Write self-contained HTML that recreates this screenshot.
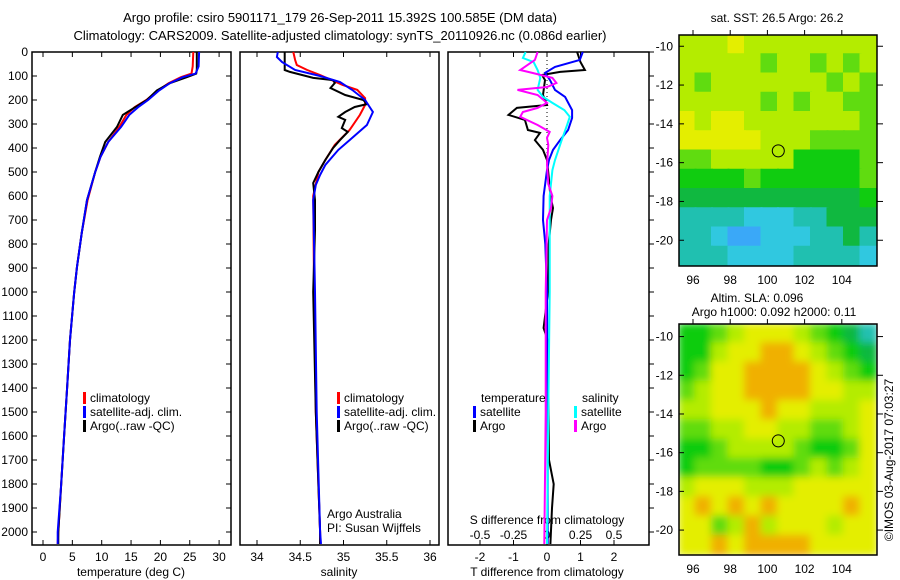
<!DOCTYPE html>
<html><head><meta charset="utf-8">
<style>
html,body{margin:0;padding:0;background:#fff;}
svg{display:block;font-family:"Liberation Sans",sans-serif;font-size:12px;}
</style></head>
<body>
<svg id="chart" width="900" height="580" viewBox="0 0 900 580" xmlns="http://www.w3.org/2000/svg">
<text x="340" y="22" text-anchor="middle" font-size="13">Argo profile: csiro 5901171_179 26-Sep-2011 15.392S 100.585E (DM data)</text>
<text x="340" y="40" text-anchor="middle" font-size="13">Climatology: CARS2009. Satellite-adjusted climatology: synTS_20110926.nc (0.086d earlier)</text>
<g id="g"></g>
</svg>
<script>
// ---- data (depth m, value) ----
const tempClim = [[0,25.6],[60,25.5],[90,25.3],[105,23.5],[130,21.4],[160,19.6],[200,17.6],[230,15.6],[262,14.2],[312,13.0],[375,11.1],[437,9.8],[500,8.9],[617,7.6],[755,6.6],[895,5.8],[1005,5.3],[1200,4.6],[1400,4.1],[1600,3.6],[1800,3.1],[2000,2.6],[2050,2.5]];
const tempSat = [[0,26.6],[60,26.5],[90,26.0],[105,23.8],[130,21.6],[160,19.8],[200,17.9],[230,16.2],[262,14.7],[312,13.3],[375,11.1],[437,9.8],[500,8.9],[617,7.5],[755,6.6],[895,5.8],[1005,5.3],[1200,4.6],[1400,4.1],[1600,3.6],[1800,3.1],[2000,2.5],[2050,2.5]];
const tempArgo = [[0,26.2],[75,26.2],[90,26.1],[105,24.5],[130,21.6],[160,19.4],[200,17.7],[230,15.7],[262,13.6],[312,12.6],[375,10.6],[437,9.7],[500,8.9],[617,7.5],[755,6.6],[895,5.8],[1005,5.3],[1200,4.6],[1400,4.1],[1600,3.6],[1800,3.1],[2000,2.6],[2050,2.6]];
const salClim = [[0,34.42],[33,34.44],[54,34.46],[75,34.58],[96,34.73],[137,34.99],[158,35.16],[192,35.25],[221,35.25],[262,35.19],[325,35.07],[387,34.9],[450,34.79],[500,34.71],[600,34.65],[1000,34.66],[1500,34.68],[2000,34.73],[2050,34.73]];
const salSat = [[0,34.24],[21,34.23],[42,34.29],[75,34.44],[100,34.73],[125,34.96],[158,35.1],[200,35.25],[250,35.34],[304,35.27],[367,35.07],[408,34.94],[471,34.79],[512,34.73],[554,34.68],[617,34.65],[1000,34.67],[1500,34.69],[2000,34.73],[2050,34.74]];
const salArgo = [[0,34.32],[75,34.32],[83,34.38],[108,34.65],[117,34.88],[129,34.9],[150,34.85],[179,35.02],[200,35.23],[217,35.27],[229,35.13],[250,35.02],[270,34.94],[283,35.02],[317,34.98],[333,35.05],[367,34.96],[400,34.88],[450,34.79],[500,34.71],[546,34.65],[617,34.67],[742,34.67],[1000,34.65],[1500,34.68],[2000,34.73],[2050,34.73]];
const tDiffSat = [[0,1.07],[33,0.98],[62,0.24],[87,-0.06],[117,0.09],[158,0.24],[187,0.54],[242,0.75],[275,0.75],[325,0.63],[367,0.39],[408,0.18],[450,0.06],[492,0],[600,-0.1],[700,-0.12],[800,-0.05],[1000,0],[1500,0.02],[2050,0.02]];
const tDiffArgo = [[0,0.9],[42,1.0],[75,1.13],[83,0.39],[96,-0.15],[117,-0.06],[179,-0.12],[221,0],[233,-0.9],[262,-1.15],[283,-0.66],[325,-0.57],[337,-0.21],[367,-0.36],[408,-0.12],[450,0],[520,0.05],[600,0.1],[650,0.18],[700,0.12],[800,0.05],[1000,0.03],[1150,-0.1],[1200,0.02],[1700,0.06],[1800,0.2],[1900,0.15],[2050,0.1]];
const sDiffSat = [[0,-0.16],[25,-0.18],[42,-0.10],[75,-0.07],[108,-0.05],[158,-0.07],[187,-0.03],[212,0.04],[242,0.13],[270,0.17],[304,0.15],[367,0.11],[450,0.06],[492,0.04],[600,0.02],[1000,0.02],[1500,0.01],[2050,0]];
const sDiffArgo = [[0,-0.07],[33,-0.09],[75,-0.2],[87,-0.11],[108,0.04],[129,0.07],[146,0],[158,-0.22],[179,-0.07],[212,0],[233,-0.07],[250,-0.18],[270,-0.2],[304,-0.07],[333,0.02],[358,0],[387,0.01],[470,0],[550,0.01],[600,0.04],[650,0.03],[700,0],[1000,-0.01],[1500,-0.01],[2050,-0.02]];
const depthTicks = [0,100,200,300,400,500,600,700,800,900,1000,1100,1200,1300,1400,1500,1600,1700,1800,1900,2000];
const tempTicks = [0,5,10,15,20,25,30];
const salTicks = [34,34.5,35,35.5,36];
const tDiffTicks = [-2,-1,0,1,2];
const sDiffTicks = [-0.5,-0.25,0,0.25,0.5];
const sDiffLabels = ["-0.5","-0.25","0","0.25","0.5"];
const latTicks = [-10,-12,-14,-16,-18,-20];
const lonTicks = [96,98,100,102,104];
// map grids: digit levels (1 blue .. 9 orange), rows north->south
const sstGrid = ["777877777777","777776776767","767777777676","777776767766","878877777776","888887776666","667777755556","555565555556","444444444445","333322233444","332112223343","333222233332"];
const slaGrid = ["556788876543","557889987654","568899998765","678899998877","778889887778","667788776678","556777765568","566665567678","788877788888","898989888898","886797888788","889899998888"];

const NS="http://www.w3.org/2000/svg";
const G=document.getElementById('g');
function mk(tag,attrs,parent){const e=document.createElementNS(NS,tag);for(const k in attrs)e.setAttribute(k,attrs[k]);(parent||G).appendChild(e);return e;}
function txt(x,y,s,anchor,parent){const t=mk('text',{x:x,y:y,'text-anchor':anchor||'start'},parent);t.textContent=s;return t;}

const yD = d => 52 + d*0.24;
const xT = v => 43 + v*5.87;
const xS = v => 257 + (v-34)*86.5;
const xTd = v => 547 + v*33.5;
const xSd = v => 547 + v*134;

function line(data,xf,color,name){
  const p=mk('polyline',{points:data.map(d=>xf(d[1]).toFixed(1)+','+yD(d[0]).toFixed(1)).join(' '),fill:'none',stroke:color,'stroke-width':2});
  
  
}
function frame(x0,x1,name){
  const r=mk('rect',{x:x0,y:52,width:x1-x0,height:493,fill:'none',stroke:'#000','stroke-width':1.5});
  
  
}
depthTicks.forEach(d=>{
  const t=txt(28,yD(d)+4,String(d),'end');
  
  
  mk('line',{x1:32,x2:37,y1:yD(d),y2:yD(d),stroke:'#000'});
  mk('line',{x1:226,x2:231,y1:yD(d),y2:yD(d),stroke:'#000'});
  mk('line',{x1:649,x2:654,y1:yD(d),y2:yD(d),stroke:'#000'});
});
frame(32,231,'temperature-panel');
frame(240,439,'salinity-panel');
frame(448,649,'difference-panel');
tempTicks.forEach(v=>{
  mk('line',{x1:xT(v),x2:xT(v),y1:545,y2:540,stroke:'#000'});
  mk('line',{x1:xT(v),x2:xT(v),y1:52,y2:57,stroke:'#000'});
  const t=txt(xT(v),561,String(v),'middle');
  
  
});
salTicks.forEach(v=>{
  mk('line',{x1:xS(v),x2:xS(v),y1:545,y2:540,stroke:'#000'});
  mk('line',{x1:xS(v),x2:xS(v),y1:52,y2:57,stroke:'#000'});
  const t=txt(xS(v),561,String(v),'middle');
  
  
});
tDiffTicks.forEach(v=>{
  mk('line',{x1:xTd(v),x2:xTd(v),y1:545,y2:540,stroke:'#000'});
  mk('line',{x1:xTd(v),x2:xTd(v),y1:52,y2:57,stroke:'#000'});
  const t=txt(xTd(v),561,String(v),'middle');
  
  
});
sDiffTicks.forEach((v,i)=>{
  const t=txt(xSd(v),539,sDiffLabels[i],'middle');
  
  
});
let a;
a=txt(131,576,'temperature (deg C)','middle');
a=txt(339,576,'salinity','middle');
a=txt(547,576,'T difference from climatology','middle');
a=txt(547,524,'S difference from climatology','middle');
mk('line',{x1:547,x2:547,y1:52,y2:160,stroke:'#000','stroke-dasharray':'1,3'});

line(tempClim,xT,'#f00','temp-climatology-line');
line(tempArgo,xT,'#000','temp-argo-line');
line(tempSat,xT,'#00f','temp-satellite-line');
line(salClim,xS,'#f00','sal-climatology-line');
line(salArgo,xS,'#000','sal-argo-line');
line(salSat,xS,'#00f','sal-satellite-line');
line(tDiffArgo,xTd,'#000','tdiff-argo-line');
line(tDiffSat,xTd,'#00f','tdiff-satellite-line');
line(sDiffSat,xSd,'#0ff','sdiff-satellite-line');
line(sDiffArgo,xSd,'#f0f','sdiff-argo-line');

function leg(x,y,color,label,name){
  mk('rect',{x:x,y:y-10,width:3,height:12,fill:color});
  const t=txt(x+7,y,label);
  
  
}
leg(83,402,'#f00','climatology','legend-climatology');
leg(83,416,'#00f','satellite-adj. clim.','legend-satellite-adj');
leg(83,430,'#000','Argo(..raw -QC)','legend-argo');
leg(337,402,'#f00','climatology','legend-climatology-2');
leg(337,416,'#00f','satellite-adj. clim.','legend-satellite-adj-2');
leg(337,430,'#000','Argo(..raw -QC)','legend-argo-2');
a=txt(481,402,'temperature');
a=txt(582,402,'salinity');
leg(473,416,'#00f','satellite','legend-t-satellite');
leg(473,430,'#000','Argo','legend-t-argo');
leg(574,416,'#0ff','satellite','legend-s-satellite');
leg(574,430,'#f0f','Argo','legend-s-argo');
a=txt(327,518,'Argo Australia');
a=txt(327,532,'PI: Susan Wijffels');

const cmap={1:'#3aa8f8',2:'#30c8e0',3:'#20c0b0',4:'#10b840',5:'#10cc10',6:'#60dc10',7:'#b4ec00',8:'#e4ee00',9:'#f0b000'};
function drawMap(grid,top,bottom,latTop,latPerPx,name,blur){
  const left=679,right=877;
  const lon2x=l=>693+(l-96)*18.6;
  const lat2y=l=>top+(latTop-l)*latPerPx;
  const g=mk('g',{'clip-path':'url(#clip-'+name+')'});
  const cp=mk('clipPath',{id:'clip-'+name});
  mk('rect',{x:left,y:top,width:right-left,height:bottom-top},cp);
  G.insertBefore(cp,g);
  const inner=mk('g',{},g);
  if(blur) inner.setAttribute('filter','url(#blur)');
  const rows=grid.length,cols=grid[0].length;
  const cw=(right-left)/cols,ch=(bottom-top)/rows;
  grid.forEach((row,r)=>{[...row].forEach((c,k)=>{
    const cell=mk('rect',{x:left+k*cw-1,y:top+r*ch-1,width:cw+2,height:ch+2,fill:cmap[c]},inner);
    
    
  });});
  const fr=mk('rect',{x:left,y:top,width:right-left,height:bottom-top,fill:'none',stroke:'#000','stroke-width':1.5});
  
  
  latTicks.forEach(l=>{
    const y=lat2y(l);
    mk('line',{x1:877,x2:883,y1:y,y2:y,stroke:'#000'});
    mk('line',{x1:679,x2:684,y1:y,y2:y,stroke:'#000'});
    const t=txt(673,y+4,String(l),'end');
    
    
  });
  lonTicks.forEach(l=>{
    const x=lon2x(l);
    mk('line',{x1:x,x2:x,y1:top,y2:top-5,stroke:'#000'});
    const t=txt(x,bottom+18,String(l),'middle');
    
    
  });
  const c=mk('circle',{cx:lon2x(100.585),cy:lat2y(-15.392),r:6,fill:'none',stroke:'#000'});
  
  
}
const defs=mk('defs',{});
const f=mk('filter',{id:'blur',x:'-5%',y:'-5%',width:'110%',height:'110%'},defs);
mk('feGaussianBlur',{stdDeviation:4,'edgeMode':'duplicate'},f);
drawMap(sstGrid,35,266,-9.42,19.4,'sst-map',false);
drawMap(slaGrid,324,555,-9.35,19.35,'sla-map',true);
a=txt(777,22,'sat. SST: 26.5 Argo: 26.2','middle');
a=txt(757,302,'Altim. SLA: 0.096','middle');
a=txt(774,316,'Argo h1000: 0.092 h2000: 0.11','middle');
a=txt(0,0,'©IMOS 03-Aug-2017 07:03:27','middle');
a.setAttribute('transform','translate(893,460) rotate(-90)');

</script>
</body></html>
